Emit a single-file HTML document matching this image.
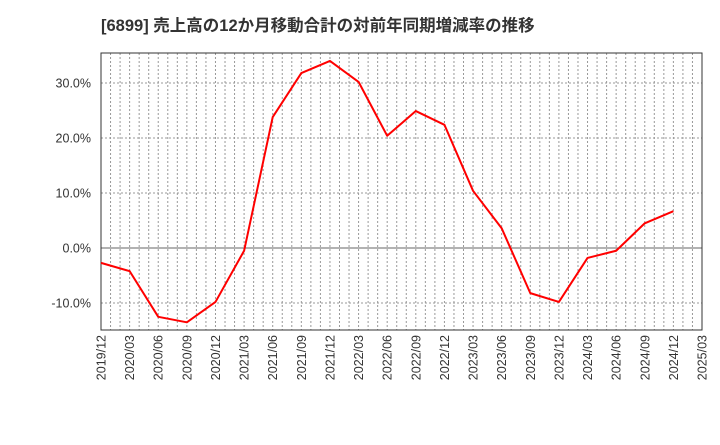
<!DOCTYPE html>
<html><head><meta charset="utf-8"><style>
body{margin:0;background:#fff;}
svg text{font-family:"Liberation Sans","Noto Sans CJK JP",sans-serif;}
</style></head><body>
<svg id="chart" width="720" height="440" xmlns="http://www.w3.org/2000/svg">
<text x="101" y="31" font-size="16.5" font-weight="bold" fill="#333">[6899]  売上高の12か月移動合計の対前年同期増減率の推移</text>
<g id="grid"></g>
<g id="axes"></g>
<g id="series"></g>
</svg>
<script>
const categories=["2019/12","2020/03","2020/06","2020/09","2020/12","2021/03","2021/06","2021/09","2021/12","2022/03","2022/06","2022/09","2022/12","2023/03","2023/06","2023/09","2023/12","2024/03","2024/06","2024/09","2024/12"];
const tickLabels=["2019/12","2020/03","2020/06","2020/09","2020/12","2021/03","2021/06","2021/09","2021/12","2022/03","2022/06","2022/09","2022/12","2023/03","2023/06","2023/09","2023/12","2024/03","2024/06","2024/09","2024/12","2025/03"];
const values=[-2.7,-4.2,-12.5,-13.5,-9.8,-0.5,23.8,31.8,34.0,30.2,20.4,24.9,22.4,10.4,3.6,-8.2,-9.8,-1.8,-0.5,4.5,6.7];
const yTicks=[-10,0,10,20,30];
const yMin=-14.9,yMax=35.45;
const L=101,R=702,T=53,B=330;
const NS="http://www.w3.org/2000/svg";
const xq=i=>L+(R-L)*i/(tickLabels.length-1);
const y=v=>B-(v-yMin)/(yMax-yMin)*(B-T);
function mk(tag,attrs,parent){const e=document.createElementNS(NS,tag);for(const k in attrs)e.setAttribute(k,attrs[k]);parent.appendChild(e);return e;}
const grid=document.getElementById('grid'),axes=document.getElementById('axes'),series=document.getElementById('series');
const nMonths=(tickLabels.length-1)*3;
for(let m=1;m<nMonths;m++){const x=L+(R-L)*m/nMonths;
const l=mk('line',{x1:x,x2:x,y1:T,y2:B,stroke:'#999','stroke-dasharray':'2,2','stroke-width':1},grid);

}
yTicks.forEach(v=>{const yy=y(v);
const l=mk('line',{x1:L,x2:R,y1:yy,y2:yy,stroke:v===0?'#666':'#999','stroke-dasharray':v===0?'':'2,2','stroke-width':1},grid);


const t=mk('text',{x:L-10,y:yy+4.5,'text-anchor':'end','font-size':12.5,fill:'#333'},axes);
t.textContent=v.toFixed(1)+'%';

});
const frame=mk('rect',{x:L,y:T,width:R-L,height:B-T,fill:'none',stroke:'#333','stroke-width':1},axes);


tickLabels.forEach((s,i)=>{const x=xq(i);
const t=mk('text',{x:0,y:0,transform:`translate(${x+4.5},${B+5}) rotate(-90)`,'text-anchor':'end','font-size':12.5,fill:'#333'},axes);
t.textContent=s;

});
const pts=values.map((v,i)=>xq(i)+','+y(v)).join(' ');
const pl=mk('polyline',{points:pts,fill:'none',stroke:'#f00','stroke-width':2,'stroke-linejoin':'round'},series);


</script>
</body></html>
